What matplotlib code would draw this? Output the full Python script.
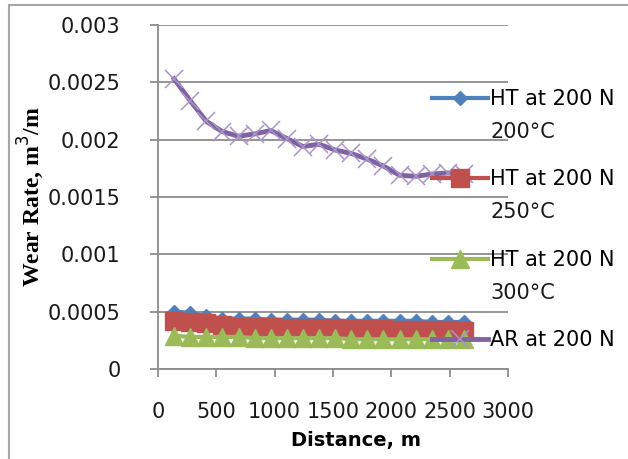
import matplotlib
matplotlib.use('Agg')
import matplotlib.pyplot as plt
import matplotlib.patches as mpatches
from matplotlib.ticker import MultipleLocator, FuncFormatter

# Sliding distance, m
distance = [138, 276, 414, 552, 690, 828, 966, 1104, 1242, 1380,
            1518, 1656, 1794, 1932, 2070, 2208, 2346, 2484, 2622]

# Wear rate, m^3/m
ht_200c = [0.00050, 0.00049, 0.00046, 0.00044, 0.00044, 0.00044, 0.00043, 0.00043, 0.00043, 0.00043,
           0.00042, 0.00042, 0.00042, 0.00042, 0.00042, 0.00042, 0.00041, 0.00041, 0.00041]
ht_250c = [0.00042, 0.00041, 0.00040, 0.00038, 0.00037, 0.00037, 0.00037, 0.00036, 0.00036, 0.00036,
           0.00036, 0.00035, 0.00035, 0.00035, 0.00034, 0.00034, 0.00034, 0.00034, 0.00033]
ht_300c = [0.00029, 0.00028, 0.00028, 0.00028, 0.00028, 0.00027, 0.00027, 0.00027, 0.00027, 0.00027,
           0.00027, 0.00026, 0.00026, 0.00026, 0.00026, 0.00026, 0.00026, 0.00026, 0.00026]
ar = [0.00253, 0.00234, 0.00216, 0.00207, 0.00203, 0.00205, 0.00208, 0.00201, 0.00194, 0.00196,
      0.00191, 0.00188, 0.00183, 0.00177, 0.00169, 0.00168, 0.00170, 0.00171, 0.00170]

labels = ["HT at 200 N", "HT at 200 N", "HT at 200 N", "AR at 200 N"]
sublabels = ["200°C", "250°C", "300°C", ""]

plt.rcParams['font.family'] = ['DejaVu Sans']

fig = plt.figure(figsize=(6.28, 4.59), dpi=100)
ax = fig.add_axes([158/628, 1 - 369/459, 350/628, 344/459])

grid_col = '#8c8c8c'
l1, = ax.plot(distance, ht_200c, color='#4F81BD', lw=3, marker='D', ms=7, zorder=3)
l2, = ax.plot(distance, ht_250c, color='#C0504D', lw=3, marker='s', ms=12.5, zorder=4)
l3, = ax.plot(distance, ht_300c, color='#9BBB59', lw=3, marker='^', ms=12.5, zorder=5)
l4, = ax.plot(distance, ar, color='#8064A2', lw=3.5, marker='x', ms=13,
              mec='#a995cc', mew=1.1, zorder=6)

ax.set_xlim(0, 3000)
ax.set_ylim(0, 0.003)
ax.xaxis.set_major_locator(MultipleLocator(500))
ax.yaxis.set_major_locator(MultipleLocator(0.0005))
ax.yaxis.set_major_formatter(FuncFormatter(lambda v, p: '%g' % round(v, 6)))

ax.grid(axis='y', color=grid_col, lw=1.3)
ax.set_axisbelow(True)
for s in ['top', 'right']:
    ax.spines[s].set_visible(False)
for s in ['left', 'bottom']:
    ax.spines[s].set_color(grid_col)
    ax.spines[s].set_linewidth(1.3)
ax.tick_params(axis='both', colors=grid_col, labelcolor='#1a1a1a', labelsize=15, width=1.3)
ax.tick_params(axis='y', length=6, pad=21)
ax.tick_params(axis='x', length=6, pad=18)

ax.set_ylabel('Wear Rate, m$^3$/m', family='Liberation Serif', fontweight='bold', fontsize=17)
ax.yaxis.set_label_coords(-0.32, 0.5)
ax.set_xlabel('Distance, m', fontweight='bold', fontsize=14)
ax.xaxis.set_label_coords(0.565, -0.18)

leg = fig.legend([l1, l2, l3, l4], labels, loc='upper left',
                 bbox_to_anchor=(432/628, 1 - 89/459), frameon=False, fontsize=15,
                 borderpad=0, borderaxespad=0, handlelength=2.7, handletextpad=0.1,
                 labelspacing=2.9)

# outer chart border (only top and left edges are visible)
fig.patches.append(mpatches.Rectangle((9/628, -0.2), 1.2, 1.2 - 5/459, fill=False,
                                      edgecolor='#a6a6a6', lw=1.5, transform=fig.transFigure))

fig.canvas.draw()
for t, sub in zip(leg.get_texts(), sublabels):
    if not sub:
        continue
    bb = t.get_window_extent()
    fig.text(bb.x0 / 628, (bb.y0 - 33) / 459, sub, fontsize=15, color='#1a1a1a',
             ha='left', va='bottom')

fig.savefig('out.png', dpi=100)
